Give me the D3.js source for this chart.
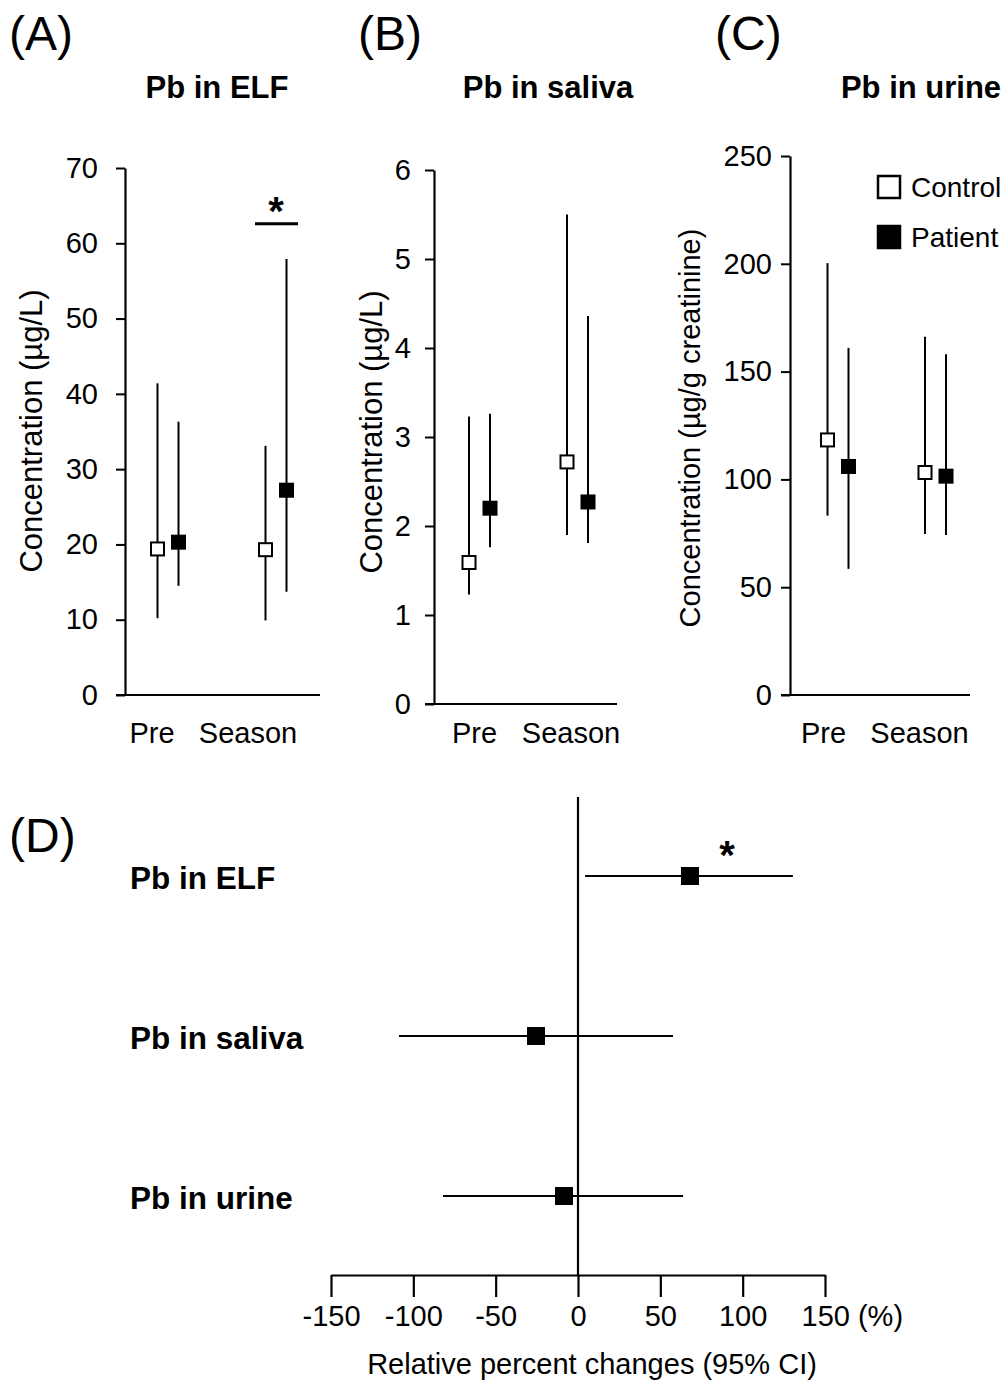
<!DOCTYPE html>
<html><head><meta charset="utf-8">
<script src="https://cdn.jsdelivr.net/npm/d3@7"></script>
<style>body{margin:0;background:#fff}svg{display:block}text{font-family:"Liberation Sans",Arial,sans-serif;fill:#000}</style>
</head><body><svg id="c" width="1008" height="1386"></svg>
<script>
// ---- data ----
const periods = ["Pre", "Season"];
const panelTitles = ["Pb in ELF", "Pb in saliva", "Pb in urine"];
const yLabels = ["Concentration (\u00b5g/L)", "Concentration (\u00b5g/L)", "Concentration (\u00b5g/g creatinine)"];
const yTicksA = [0,10,20,30,40,50,60,70];
const yTicksB = [0,1,2,3,4,5,6];
const yTicksC = [0,50,100,150,200,250];
// ELF
const elfControlMean = [19.4, 19.3];
const elfControlLo = [10.2, 9.9];
const elfControlHi = [41.4, 33.1];
const elfPatientMean = [20.3, 27.2];
const elfPatientLo = [14.5, 13.7];
const elfPatientHi = [36.3, 57.9];
// saliva
const salControlMean = [1.59, 2.72];
const salControlLo = [1.23, 1.90];
const salControlHi = [3.23, 5.50];
const salPatientMean = [2.20, 2.27];
const salPatientLo = [1.76, 1.81];
const salPatientHi = [3.26, 4.36];
// urine
const urControlMean = [118.3, 103.2];
const urControlLo = [83.2, 74.7];
const urControlHi = [200.3, 166.2];
const urPatientMean = [106.0, 101.5];
const urPatientLo = [58.5, 74.2];
const urPatientHi = [161.0, 158.1];
// forest plot (D)
const forestRows = ["Pb in ELF", "Pb in saliva", "Pb in urine"];
const forestEst = [68, -25.5, -8.5];
const forestLo = [4.3, -108.7, -82];
const forestHi = [130.5, 57.7, 63.8];
const forestSig = [true, false, false];
const forestTicks = [-150,-100,-50,0,50,100,150];

const FONT = '"Liberation Sans",Arial,sans-serif';
const svg = d3.select("#c");

function panel(cfg){
  const g = svg.append("g");
  const y = d3.scaleLinear().domain([0, cfg.ymax]).range([cfg.y0, cfg.y1]);
  const x = d3.scalePoint().domain(periods).range([cfg.ax + cfg.c0, cfg.ax + cfg.c1]);
  const ax = g.append("g").attr("transform", `translate(${cfg.ax},0)`)
    .call(d3.axisLeft(y).tickValues(cfg.ticks).tickSize(9).tickSizeOuter(0).tickPadding(cfg.pad)
      .tickFormat(d => String(d)));
  ax.select(".domain").attr("stroke-width", 2.2);
  ax.selectAll(".tick line").attr("stroke-width", 2);
  ax.selectAll(".tick text").style("font-size", "29px").style("font-family", FONT);
  // x axis line
  g.append("line").attr("x1", cfg.ax - 9).attr("x2", cfg.axEnd).attr("y1", cfg.y0).attr("y2", cfg.y0)
    .attr("stroke", "#000").attr("stroke-width", 2.2);
  g.selectAll(".cat").data(periods).join("text")
    .attr("x", (d,i) => x(d) + cfg.labShift[i]).attr("y", 743)
    .attr("text-anchor", "middle").style("font-size", "29px").text(d => d);
  // series
  const series = [
    {m: cfg.cm, lo: cfg.clo, hi: cfg.chi, fill: "#fff", dx: -10.5},
    {m: cfg.pm, lo: cfg.plo, hi: cfg.phi, fill: "#000", dx: 10.5}
  ];
  series.forEach(s => {
    periods.forEach((p, i) => {
      const cx = x(p) + s.dx;
      g.append("line").attr("x1", cx).attr("x2", cx).attr("y1", y(s.lo[i])).attr("y2", y(s.hi[i]))
        .attr("stroke", "#000").attr("stroke-width", 2);
      g.append("rect").attr("x", cx - 6.5).attr("y", y(s.m[i]) - 6.5).attr("width", 13).attr("height", 13)
        .attr("fill", s.fill).attr("stroke", "#000").attr("stroke-width", 2);
    });
  });
  // title
  svg.append("text").attr("x", cfg.titleX).attr("y", 98).attr("text-anchor", "middle")
    .style("font-size", "31px").style("font-weight", "bold").text(cfg.title);
  svg.append("text").attr("x", cfg.letterX).attr("y", 50).style("font-size", "48px").text(cfg.letter);
  svg.append("text").attr("transform", `translate(${cfg.ylabX},${cfg.ylabY}) rotate(-90)`)
    .attr("text-anchor", "middle").style("font-size", cfg.ylabSize + "px").text(cfg.ylab);
  return {x, y, g};
}

const A = panel({ax:125, axEnd:320, y0:695, y1:168, ymax:70, ticks:yTicksA, pad:18, c0:43, c1:151, labShift:[-16,-28],
  cm:elfControlMean, clo:elfControlLo, chi:elfControlHi, pm:elfPatientMean, plo:elfPatientLo, phi:elfPatientHi,
  title:panelTitles[0], titleX:217, letter:"(A)", letterX:9, ylab:yLabels[0], ylabX:42, ylabY:431, ylabSize:31});
// significance bar in A
const sigY = A.y(62.6);
A.g.append("line").attr("x1", A.x("Season") - 21).attr("x2", A.x("Season") + 22).attr("y1", sigY).attr("y2", sigY)
  .attr("stroke", "#000").attr("stroke-width", 3);
A.g.append("text").attr("x", A.x("Season")).attr("y", sigY + 1).attr("text-anchor", "middle")
  .style("font-size", "40px").style("font-weight", "bold").text("*");

panel({ax:434, axEnd:617, y0:704, y1:170, ymax:6, ticks:yTicksB, pad:14, c0:45.5, c1:143.5, labShift:[-5,-6.5],
  cm:salControlMean, clo:salControlLo, chi:salControlHi, pm:salPatientMean, plo:salPatientLo, phi:salPatientHi,
  title:panelTitles[1], titleX:548, letter:"(B)", letterX:358, ylab:yLabels[1], ylabX:382, ylabY:432, ylabSize:31});

panel({ax:790, axEnd:970, y0:695, y1:156, ymax:250, ticks:yTicksC, pad:9, c0:48, c1:145.5, labShift:[-14.5,-16],
  cm:urControlMean, clo:urControlLo, chi:urControlHi, pm:urPatientMean, plo:urPatientLo, phi:urPatientHi,
  title:panelTitles[2], titleX:921, letter:"(C)", letterX:715, ylab:yLabels[2], ylabX:700, ylabY:428, ylabSize:29});

// legend
const legend = [{name:"Control", fill:"#fff"}, {name:"Patient", fill:"#000"}];
legend.forEach((l, i) => {
  const ly = 187 + i * 50;
  svg.append("rect").attr("x", 878).attr("y", ly - 11).attr("width", 22).attr("height", 22)
    .attr("fill", l.fill).attr("stroke", "#000").attr("stroke-width", 2.5);
  svg.append("text").attr("x", 911).attr("y", ly + 10).style("font-size", "28px").text(l.name);
});

// ---- panel D ----
svg.append("text").attr("x", 9).attr("y", 852).style("font-size", "48px").text("(D)");
const fx = d3.scaleLinear().domain([-150, 150]).range([331, 825]);
const fy = d3.scalePoint().domain(forestRows).range([876, 1196]);
const axisY = 1275;
const fax = svg.append("g").attr("transform", `translate(0,${axisY})`)
  .call(d3.axisBottom(fx).tickValues(forestTicks).tickSize(22).tickSizeOuter(0).tickPadding(8)
    .tickFormat(d => d === 150 ? "150 (%)" : String(d)));
fax.select(".domain").attr("stroke-width", 2.2);
fax.selectAll(".tick line").attr("stroke-width", 2.2);
fax.selectAll(".tick text").style("font-size", "29px").style("font-family", FONT);
fax.selectAll(".tick text").filter(d => d === 150).attr("text-anchor", "start").attr("x", -24);
svg.append("line").attr("x1", fx(0)).attr("x2", fx(0)).attr("y1", 797).attr("y2", axisY)
  .attr("stroke", "#000").attr("stroke-width", 2.2);
forestRows.forEach((r, i) => {
  const yy = fy(r);
  svg.append("text").attr("x", 130).attr("y", yy + 13).style("font-size", "31.5px").style("font-weight", "bold").text(r);
  svg.append("line").attr("x1", fx(forestLo[i])).attr("x2", fx(forestHi[i])).attr("y1", yy).attr("y2", yy)
    .attr("stroke", "#000").attr("stroke-width", 2.2);
  svg.append("rect").attr("x", fx(forestEst[i]) - 9).attr("y", yy - 9).attr("width", 18).attr("height", 18).attr("fill", "#000");
  if (forestSig[i]) {
    svg.append("text").attr("x", fx(forestEst[i]) + 37).attr("y", yy - 7).attr("text-anchor", "middle")
      .style("font-size", "40px").style("font-weight", "bold").text("*");
  }
});
svg.append("text").attr("x", 592).attr("y", 1374).attr("text-anchor", "middle").style("font-size", "29px")
  .text("Relative percent changes (95% CI)");
</script></body></html>
